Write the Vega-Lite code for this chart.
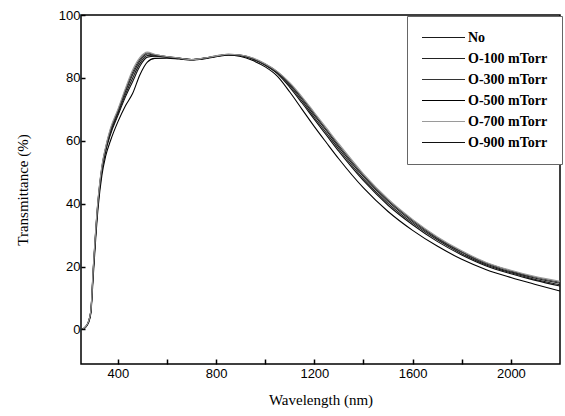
{
"$schema":"https://vega.github.io/schema/vega-lite/v6.json",
"width":479,"height":349,
"autosize":{"type":"none"},
"padding":{"left":81,"top":15,"right":5,"bottom":52},
"background":"white",
"config":{"view":{"stroke":"#000","strokeWidth":1.5}},
"data":{"values":[
{"w":255,"s":"O-500 mTorr","t":0},{"w":270,"s":"O-500 mTorr","t":0.8},{"w":280,"s":"O-500 mTorr","t":2},{"w":290,"s":"O-500 mTorr","t":5},{"w":300,"s":"O-500 mTorr","t":17},{"w":310,"s":"O-500 mTorr","t":29},{"w":320,"s":"O-500 mTorr","t":39},{"w":335,"s":"O-500 mTorr","t":49},{"w":350,"s":"O-500 mTorr","t":55},{"w":370,"s":"O-500 mTorr","t":60},{"w":400,"s":"O-500 mTorr","t":66},{"w":430,"s":"O-500 mTorr","t":71},{"w":460,"s":"O-500 mTorr","t":75},{"w":490,"s":"O-500 mTorr","t":81},{"w":520,"s":"O-500 mTorr","t":85},{"w":550,"s":"O-500 mTorr","t":86.2},{"w":600,"s":"O-500 mTorr","t":86.3},{"w":650,"s":"O-500 mTorr","t":86},{"w":700,"s":"O-500 mTorr","t":85.7},{"w":750,"s":"O-500 mTorr","t":86},{"w":800,"s":"O-500 mTorr","t":86.7},{"w":850,"s":"O-500 mTorr","t":87.2},{"w":900,"s":"O-500 mTorr","t":86.8},{"w":950,"s":"O-500 mTorr","t":85.5},{"w":1000,"s":"O-500 mTorr","t":83.5},{"w":1050,"s":"O-500 mTorr","t":80.5},{"w":1100,"s":"O-500 mTorr","t":75.5},{"w":1150,"s":"O-500 mTorr","t":70},{"w":1200,"s":"O-500 mTorr","t":64.5},{"w":1250,"s":"O-500 mTorr","t":59.3},{"w":1300,"s":"O-500 mTorr","t":54.2},{"w":1400,"s":"O-500 mTorr","t":45},{"w":1500,"s":"O-500 mTorr","t":37.5},{"w":1600,"s":"O-500 mTorr","t":31.5},{"w":1700,"s":"O-500 mTorr","t":26.5},{"w":1800,"s":"O-500 mTorr","t":22.3},{"w":1900,"s":"O-500 mTorr","t":19},{"w":2000,"s":"O-500 mTorr","t":16.5},{"w":2100,"s":"O-500 mTorr","t":14.3},{"w":2200,"s":"O-500 mTorr","t":12.2},
{"w":255,"s":"O-900 mTorr","t":0},{"w":270,"s":"O-900 mTorr","t":0.9},{"w":280,"s":"O-900 mTorr","t":2.3},{"w":290,"s":"O-900 mTorr","t":5.5},{"w":300,"s":"O-900 mTorr","t":18.5},{"w":310,"s":"O-900 mTorr","t":30.5},{"w":320,"s":"O-900 mTorr","t":40.5},{"w":335,"s":"O-900 mTorr","t":50.5},{"w":350,"s":"O-900 mTorr","t":56.5},{"w":370,"s":"O-900 mTorr","t":62},{"w":400,"s":"O-900 mTorr","t":68},{"w":430,"s":"O-900 mTorr","t":73.8},{"w":460,"s":"O-900 mTorr","t":78.8},{"w":490,"s":"O-900 mTorr","t":83.8},{"w":520,"s":"O-900 mTorr","t":86.6},{"w":550,"s":"O-900 mTorr","t":86.9},{"w":600,"s":"O-900 mTorr","t":86.6},{"w":650,"s":"O-900 mTorr","t":86.2},{"w":700,"s":"O-900 mTorr","t":85.8},{"w":750,"s":"O-900 mTorr","t":86.2},{"w":800,"s":"O-900 mTorr","t":86.9},{"w":850,"s":"O-900 mTorr","t":87.4},{"w":900,"s":"O-900 mTorr","t":87.1},{"w":950,"s":"O-900 mTorr","t":85.9},{"w":1000,"s":"O-900 mTorr","t":84},{"w":1050,"s":"O-900 mTorr","t":81.3},{"w":1100,"s":"O-900 mTorr","t":77},{"w":1150,"s":"O-900 mTorr","t":72},{"w":1200,"s":"O-900 mTorr","t":66.8},{"w":1250,"s":"O-900 mTorr","t":61.7},{"w":1300,"s":"O-900 mTorr","t":56.6},{"w":1400,"s":"O-900 mTorr","t":47.3},{"w":1500,"s":"O-900 mTorr","t":39.5},{"w":1600,"s":"O-900 mTorr","t":33.3},{"w":1700,"s":"O-900 mTorr","t":28},{"w":1800,"s":"O-900 mTorr","t":23.7},{"w":1900,"s":"O-900 mTorr","t":20.2},{"w":2000,"s":"O-900 mTorr","t":17.7},{"w":2100,"s":"O-900 mTorr","t":15.6},{"w":2200,"s":"O-900 mTorr","t":13.8},
{"w":255,"s":"No","t":0},{"w":270,"s":"No","t":0.9},{"w":280,"s":"No","t":2.3},{"w":290,"s":"No","t":5.7},{"w":300,"s":"No","t":19},{"w":310,"s":"No","t":31},{"w":320,"s":"No","t":41},{"w":335,"s":"No","t":51},{"w":350,"s":"No","t":57},{"w":370,"s":"No","t":62.6},{"w":400,"s":"No","t":68.6},{"w":430,"s":"No","t":74.6},{"w":460,"s":"No","t":79.9},{"w":490,"s":"No","t":84.6},{"w":520,"s":"No","t":87.1},{"w":550,"s":"No","t":87},{"w":600,"s":"No","t":86.6},{"w":650,"s":"No","t":86.2},{"w":700,"s":"No","t":85.8},{"w":750,"s":"No","t":86.2},{"w":800,"s":"No","t":86.9},{"w":850,"s":"No","t":87.4},{"w":900,"s":"No","t":87.1},{"w":950,"s":"No","t":86},{"w":1000,"s":"No","t":84.2},{"w":1050,"s":"No","t":81.5},{"w":1100,"s":"No","t":77.5},{"w":1150,"s":"No","t":72.6},{"w":1200,"s":"No","t":67.4},{"w":1250,"s":"No","t":62.4},{"w":1300,"s":"No","t":57.3},{"w":1400,"s":"No","t":47.9},{"w":1500,"s":"No","t":40.1},{"w":1600,"s":"No","t":33.8},{"w":1700,"s":"No","t":28.5},{"w":1800,"s":"No","t":24.1},{"w":1900,"s":"No","t":20.5},{"w":2000,"s":"No","t":18},{"w":2100,"s":"No","t":15.9},{"w":2200,"s":"No","t":14.2},
{"w":255,"s":"O-100 mTorr","t":0},{"w":270,"s":"O-100 mTorr","t":1},{"w":280,"s":"O-100 mTorr","t":2.4},{"w":290,"s":"O-100 mTorr","t":5.8},{"w":300,"s":"O-100 mTorr","t":19.4},{"w":310,"s":"O-100 mTorr","t":31.4},{"w":320,"s":"O-100 mTorr","t":41.4},{"w":335,"s":"O-100 mTorr","t":51.4},{"w":350,"s":"O-100 mTorr","t":57.4},{"w":370,"s":"O-100 mTorr","t":63.2},{"w":400,"s":"O-100 mTorr","t":69.2},{"w":430,"s":"O-100 mTorr","t":75.4},{"w":460,"s":"O-100 mTorr","t":81},{"w":490,"s":"O-100 mTorr","t":85.4},{"w":520,"s":"O-100 mTorr","t":87.6},{"w":550,"s":"O-100 mTorr","t":87.2},{"w":600,"s":"O-100 mTorr","t":86.7},{"w":650,"s":"O-100 mTorr","t":86.2},{"w":700,"s":"O-100 mTorr","t":85.8},{"w":750,"s":"O-100 mTorr","t":86.2},{"w":800,"s":"O-100 mTorr","t":86.9},{"w":850,"s":"O-100 mTorr","t":87.4},{"w":900,"s":"O-100 mTorr","t":87.2},{"w":950,"s":"O-100 mTorr","t":86.1},{"w":1000,"s":"O-100 mTorr","t":84.3},{"w":1050,"s":"O-100 mTorr","t":81.7},{"w":1100,"s":"O-100 mTorr","t":77.9},{"w":1150,"s":"O-100 mTorr","t":73.2},{"w":1200,"s":"O-100 mTorr","t":68.1},{"w":1250,"s":"O-100 mTorr","t":63.1},{"w":1300,"s":"O-100 mTorr","t":58},{"w":1400,"s":"O-100 mTorr","t":48.6},{"w":1500,"s":"O-100 mTorr","t":40.7},{"w":1600,"s":"O-100 mTorr","t":34.3},{"w":1700,"s":"O-100 mTorr","t":28.9},{"w":1800,"s":"O-100 mTorr","t":24.5},{"w":1900,"s":"O-100 mTorr","t":20.8},{"w":2000,"s":"O-100 mTorr","t":18.3},{"w":2100,"s":"O-100 mTorr","t":16.3},{"w":2200,"s":"O-100 mTorr","t":14.7},
{"w":255,"s":"O-300 mTorr","t":0},{"w":270,"s":"O-300 mTorr","t":1},{"w":280,"s":"O-300 mTorr","t":2.5},{"w":290,"s":"O-300 mTorr","t":5.9},{"w":300,"s":"O-300 mTorr","t":19.7},{"w":310,"s":"O-300 mTorr","t":31.7},{"w":320,"s":"O-300 mTorr","t":41.7},{"w":335,"s":"O-300 mTorr","t":51.7},{"w":350,"s":"O-300 mTorr","t":57.7},{"w":370,"s":"O-300 mTorr","t":63.6},{"w":400,"s":"O-300 mTorr","t":69.6},{"w":430,"s":"O-300 mTorr","t":76},{"w":460,"s":"O-300 mTorr","t":81.8},{"w":490,"s":"O-300 mTorr","t":86},{"w":520,"s":"O-300 mTorr","t":87.9},{"w":550,"s":"O-300 mTorr","t":87.4},{"w":600,"s":"O-300 mTorr","t":86.8},{"w":650,"s":"O-300 mTorr","t":86.3},{"w":700,"s":"O-300 mTorr","t":85.8},{"w":750,"s":"O-300 mTorr","t":86.3},{"w":800,"s":"O-300 mTorr","t":87},{"w":850,"s":"O-300 mTorr","t":87.5},{"w":900,"s":"O-300 mTorr","t":87.3},{"w":950,"s":"O-300 mTorr","t":86.2},{"w":1000,"s":"O-300 mTorr","t":84.4},{"w":1050,"s":"O-300 mTorr","t":81.9},{"w":1100,"s":"O-300 mTorr","t":78.2},{"w":1150,"s":"O-300 mTorr","t":73.6},{"w":1200,"s":"O-300 mTorr","t":68.6},{"w":1250,"s":"O-300 mTorr","t":63.5},{"w":1300,"s":"O-300 mTorr","t":58.5},{"w":1400,"s":"O-300 mTorr","t":49.1},{"w":1500,"s":"O-300 mTorr","t":41.1},{"w":1600,"s":"O-300 mTorr","t":34.7},{"w":1700,"s":"O-300 mTorr","t":29.2},{"w":1800,"s":"O-300 mTorr","t":24.7},{"w":1900,"s":"O-300 mTorr","t":21.1},{"w":2000,"s":"O-300 mTorr","t":18.6},{"w":2100,"s":"O-300 mTorr","t":16.6},{"w":2200,"s":"O-300 mTorr","t":15},
{"w":255,"s":"O-700 mTorr","t":0},{"w":270,"s":"O-700 mTorr","t":1},{"w":280,"s":"O-700 mTorr","t":2.5},{"w":290,"s":"O-700 mTorr","t":6},{"w":300,"s":"O-700 mTorr","t":20},{"w":310,"s":"O-700 mTorr","t":32},{"w":320,"s":"O-700 mTorr","t":42},{"w":335,"s":"O-700 mTorr","t":52},{"w":350,"s":"O-700 mTorr","t":58},{"w":370,"s":"O-700 mTorr","t":64},{"w":400,"s":"O-700 mTorr","t":70},{"w":430,"s":"O-700 mTorr","t":76.5},{"w":460,"s":"O-700 mTorr","t":82.5},{"w":490,"s":"O-700 mTorr","t":86.5},{"w":520,"s":"O-700 mTorr","t":88.2},{"w":550,"s":"O-700 mTorr","t":87.5},{"w":600,"s":"O-700 mTorr","t":86.8},{"w":650,"s":"O-700 mTorr","t":86.3},{"w":700,"s":"O-700 mTorr","t":85.8},{"w":750,"s":"O-700 mTorr","t":86.3},{"w":800,"s":"O-700 mTorr","t":87},{"w":850,"s":"O-700 mTorr","t":87.5},{"w":900,"s":"O-700 mTorr","t":87.3},{"w":950,"s":"O-700 mTorr","t":86.3},{"w":1000,"s":"O-700 mTorr","t":84.5},{"w":1050,"s":"O-700 mTorr","t":82},{"w":1100,"s":"O-700 mTorr","t":78.5},{"w":1150,"s":"O-700 mTorr","t":74},{"w":1200,"s":"O-700 mTorr","t":69},{"w":1250,"s":"O-700 mTorr","t":64},{"w":1300,"s":"O-700 mTorr","t":59},{"w":1400,"s":"O-700 mTorr","t":49.5},{"w":1500,"s":"O-700 mTorr","t":41.5},{"w":1600,"s":"O-700 mTorr","t":35},{"w":1700,"s":"O-700 mTorr","t":29.5},{"w":1800,"s":"O-700 mTorr","t":25},{"w":1900,"s":"O-700 mTorr","t":21.3},{"w":2000,"s":"O-700 mTorr","t":18.8},{"w":2100,"s":"O-700 mTorr","t":16.8},{"w":2200,"s":"O-700 mTorr","t":15.3}
]},
"mark":{"type":"line","interpolate":"monotone","clip":true},
"encoding":{
"x":{"field":"w","type":"quantitative","scale":{"domain":[250,2200],"nice":false,"zero":false},
 "axis":{"values":[400,600,800,1000,1200,1400,1600,1800,2000],"format":"d","labelExpr":"datum.value % 400 == 0 ? datum.label : ''",
  "ticks":true,"tickSize":-5,"tickOpacity":1,"zindex":2,
  "grid":false,"domain":false,"tickColor":"#000","tickWidth":1.5,
  "labelFont":"Liberation Sans","labelFontSize":13,"labelColor":"#000","labelPadding":8,
  "title":"Wavelength (nm)","titleFont":"Liberation Serif","titleFontSize":15,"titleFontWeight":"normal","titleColor":"#000","titlePadding":12}},
"y":{"field":"t","type":"quantitative","scale":{"domain":[-11,100],"nice":false,"zero":false},
 "axis":{"values":[0,20,40,60,80,100],"format":"d","ticks":true,"tickSize":-4,"tickOpacity":1,"zindex":2,"grid":false,"domain":false,"tickColor":"#000","tickWidth":1.5,
  "labelFont":"Liberation Sans","labelFontSize":13,"labelColor":"#000","labelPadding":5,
  "title":"Transmittance (%)","titleFont":"Liberation Serif","titleFontSize":15,"titleFontWeight":"normal","titleColor":"#000","titlePadding":28}},
"color":{"field":"s","type":"nominal",
 "scale":{"domain":["No","O-100 mTorr","O-300 mTorr","O-500 mTorr","O-700 mTorr","O-900 mTorr"],"range":["#1a1a1a","#222222","#333333","#000000","#9a9a9a","#111111"]},
 "legend":{"orient":"none","legendX":326,"legendY":1,"title":null,"symbolType":"stroke","symbolSize":1849,"symbolStrokeWidth":1.5,"clipHeight":15,
  "labelFont":"Liberation Serif","labelFontSize":14,"labelFontWeight":"bold","labelColor":"#000","strokeColor":"#666","fillColor":"#fff",
  "padding":14,"rowPadding":6,"labelOffset":2,"symbolOffset":0,"zindex":3}},
"strokeWidth":{"field":"s","type":"nominal","legend":null,
 "scale":{"domain":["No","O-100 mTorr","O-300 mTorr","O-500 mTorr","O-700 mTorr","O-900 mTorr"],"range":[1.1,1.1,1.0,2.0,1.2,1.4]}}
}
}
